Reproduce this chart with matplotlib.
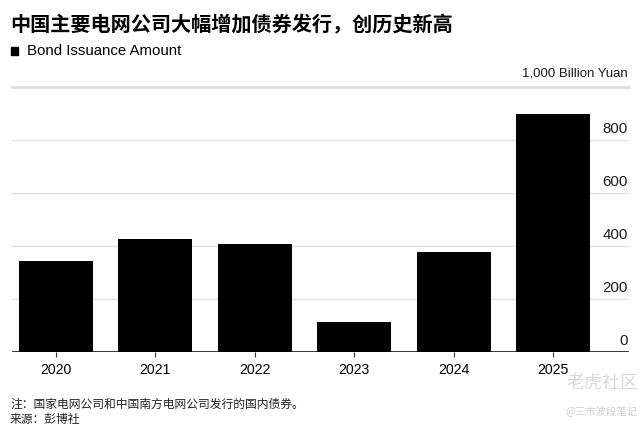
import matplotlib.pyplot as plt
from matplotlib import transforms

plt.rcParams['font.family'] = ['Liberation Sans', 'Noto Sans CJK SC', 'DejaVu Sans']

# dati (1000 miliardi di yuan -> qui in miliardi)
years = ['2020', '2021', '2022', '2023', '2024', '2025']
issuance = [344, 426, 409, 113, 378, 899]
yticks = [0, 200, 400, 600, 800]

title = '中国主要电网公司大幅增加债券发行，创历史新高'
legend_label = 'Bond Issuance Amount'
unit_label = '1,000 Billion Yuan'
note = '注：国家电网公司和中国南方电网公司发行的国内债券。'
source = '来源：彭博社'

fig = plt.figure(figsize=(6.44, 4.29), dpi=100)
ax = fig.add_axes([12 / 644, 1 - 352 / 429, 617 / 644, (352 - 87.3) / 429])

x = list(range(len(years)))
ax.bar(x, issuance, width=0.745, color='black', zorder=2)

ax.set_xlim(-0.443, 5.765)
ax.set_ylim(0, 1000)

# griglia orizzontale grigia, la linea in alto più spessa
for v in yticks[1:]:
    ax.axhline(v, color='#e2e2e2', lw=1.0, zorder=1)
ax.axhline(1000, color='#dcdcdc', lw=2.0, zorder=1, clip_on=False)
ax.axhline(0, color='black', lw=1.1, zorder=3)

for s in ax.spines.values():
    s.set_visible(False)

ax.set_yticks([])
ax.set_xticks(x)
ax.set_xticklabels(years, fontsize=10.2)
ax.tick_params(axis='x', length=3.5, width=0.8, color='#333333', pad=4.5)

# etichette dei valori a destra, sopra le linee
tr = transforms.blended_transform_factory(ax.transAxes, ax.transData)
for v in yticks:
    ax.text(0.998, v + 16, str(v), transform=tr, ha='right', va='bottom',
            fontsize=10.8, color='#1a1a1a')
ax.text(0.998, 1000 + 30, unit_label, transform=tr, ha='right', va='bottom',
        fontsize=9.5, color='#1a1a1a')

fig.text(10 / 644, 1 - 25 / 429, title, fontsize=14.5, fontweight='bold',
         family=['Noto Sans CJK SC', 'DejaVu Sans'], va='center', ha='left')
fig.patches.append(plt.Rectangle((11 / 644, 1 - 55 / 429), 7 / 644, 8 / 429,
                                 transform=fig.transFigure, color='black'))
fig.text(27 / 644, 1 - 51 / 429, legend_label, fontsize=10.8, va='center', ha='left')

fig.text(10 / 644, 1 - 404 / 429, note, fontsize=8.5, color='#222222',
         family=['Noto Sans CJK SC', 'DejaVu Sans'], va='center', ha='left')
fig.text(10 / 644, 1 - 419 / 429, source, fontsize=8.5, color='#222222',
         family=['Noto Sans CJK SC', 'DejaVu Sans'], va='center', ha='left')

# filigrana
fig.text(638 / 644, 1 - 383 / 429, '老虎社区', fontsize=13, color='#d9d9d9',
         family=['Noto Sans CJK SC', 'DejaVu Sans'], va='center', ha='right')
fig.text(638 / 644, 1 - 411 / 429, '@三市波段笔记', fontsize=7.5, color='#cfcfcf',
         family=['Noto Sans CJK SC', 'DejaVu Sans'], va='center', ha='right')

fig.savefig('out.png', dpi=100)
